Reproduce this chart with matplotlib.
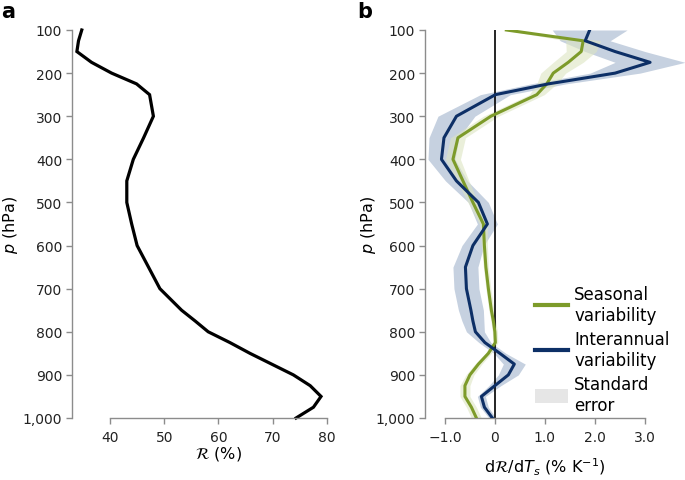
import matplotlib.pyplot as plt
from matplotlib.lines import Line2D
from matplotlib.patches import Patch

plt.rcParams['font.family'] = ['DejaVu Sans']
plt.rcParams['mathtext.fontset'] = 'dejavusans'

# pressure levels (hPa)
levels = [100, 125, 150, 175, 200, 225, 250, 300, 350, 400, 450, 500, 550, 600,
          650, 700, 750, 775, 800, 825, 850, 875, 900, 925, 950, 975, 1000]

# panel a: relative humidity profile (%)
rh = [34.8, 34.2, 33.9, 36.6, 40.3, 44.9, 47.3, 48.0, 46.2, 44.3, 43.1, 43.1, 44.0, 45.0,
      47.1, 49.2, 53.2, 55.7, 58.1, 62.1, 65.8, 69.8, 73.8, 76.9, 78.9, 77.5, 74.3]

# panel b: dR/dTs (% per K) and standard errors
seasonal = [0.23, 1.77, 1.73, 1.47, 1.17, 1.04, 0.84, -0.08, -0.74, -0.84, -0.64, -0.44, -0.23, -0.21,
            -0.18, -0.13, -0.07, -0.03, 0.0, 0.01, -0.13, -0.33, -0.5, -0.6, -0.6, -0.47, -0.37]
seasonal_se = [0.05, 0.35, 0.3, 0.3, 0.25, 0.2, 0.15, 0.15, 0.15, 0.15, 0.12, 0.1, 0.08, 0.06,
               0.05, 0.05, 0.05, 0.05, 0.05, 0.05, 0.06, 0.07, 0.08, 0.1, 0.1, 0.1, 0.1]
interannual = [1.9, 1.81, 2.41, 3.11, 2.41, 1.07, 0.01, -0.77, -1.02, -1.07, -0.77, -0.33, -0.15, -0.44,
               -0.59, -0.57, -0.48, -0.44, -0.39, -0.2, 0.1, 0.39, 0.27, 0.0, -0.27, -0.21, -0.05]
interannual_se = [0.75, 0.5, 0.6, 0.7, 0.5, 0.35, 0.3, 0.37, 0.3, 0.27, 0.22, 0.2, 0.2, 0.22,
                  0.25, 0.25, 0.25, 0.22, 0.18, 0.12, 0.12, 0.22, 0.2, 0.12, 0.08, 0.08, 0.07]

green = '#7d9b2a'
navy = '#0d2f66'
spine_col = '#8c8c8c'

fig = plt.figure(figsize=(6.85, 4.81), dpi=100)
ax1 = fig.add_axes([72 / 685, 1 - 419 / 481, 255 / 685, 388 / 481])
ax2 = fig.add_axes([425 / 685, 1 - 419 / 481, 262 / 685, 388 / 481])


def style_axis(ax, xb):
    for s in ['top', 'right']:
        ax.spines[s].set_visible(False)
    for s in ['left', 'bottom']:
        ax.spines[s].set_color(spine_col)
        ax.spines[s].set_linewidth(1.0)
    ax.spines['left'].set_bounds(100, 1000)
    ax.spines['bottom'].set_bounds(*xb)
    ax.set_ylim(1000, 100)
    ax.set_yticks(range(100, 1001, 100))
    ax.set_yticklabels([f'{v:,}' for v in range(100, 1001, 100)])
    ax.tick_params(axis='both', colors=spine_col, labelcolor='#222222',
                   labelsize=10, length=4, width=1.0)
    ax.tick_params(axis='y', pad=3)
    ax.tick_params(axis='x', pad=5)
    ax.xaxis.label.set_va('center')
    ax.yaxis.label.set_va('center')


# panel a
ax1.plot(rh, levels, color='black', lw=2.3, solid_joinstyle='miter', clip_on=False)
ax1.set_xlim(33, 80)
ax1.set_xticks([40, 50, 60, 70, 80])
ax1.set_xlabel(r'$\mathcal{R}$ (%)', fontsize=11.5)
ax1.set_ylabel(r'$p$ (hPa)', fontsize=11.5)
style_axis(ax1, (40, 80))
ax1.xaxis.set_label_coords((218.5 - 72) / 255, -0.09)
ax1.yaxis.set_label_coords((11 - 72) / 255, 0.5)

# panel b
lo = [v - e for v, e in zip(interannual, interannual_se)]
hi = [v + e for v, e in zip(interannual, interannual_se)]
ax2.fill_betweenx(levels, lo, hi, color='#c6d1e0', lw=0, zorder=1)
lo = [v - e for v, e in zip(seasonal, seasonal_se)]
hi = [v + e for v, e in zip(seasonal, seasonal_se)]
ax2.fill_betweenx(levels, lo, hi, color='#dde5c2', alpha=0.6, lw=0, zorder=1.5)
ax2.plot([0, 0], [100, 1000], color='black', lw=1.2, zorder=2)
ax2.plot(seasonal, levels, color=green, lw=2.2, zorder=3)
ax2.plot(interannual, levels, color=navy, lw=2.2, zorder=4)
ax2.set_xlim(-1.4, 3.85)
ax2.set_xticks([-1, 0, 1, 2, 3])
ax2.set_xticklabels(['\u22121.0', '0', '1.0', '2.0', '3.0'])
ax2.set_xlabel(r'd$\mathcal{R}$/d$T_s$ (% K$^{-1}$)', fontsize=11.5)
ax2.set_ylabel(r'$p$ (hPa)', fontsize=11.5)
style_axis(ax2, (-1, 3))
ax2.xaxis.set_label_coords((544.5 - 425) / 262, -0.124)
ax2.yaxis.set_label_coords((368 - 425) / 262, 0.5)

handles = [Line2D([], [], color=green, lw=3),
           Line2D([], [], color=navy, lw=3),
           Patch(facecolor='#e6e6e6', edgecolor='none')]
labels = ['Seasonal\nvariability', 'Interannual\nvariability', 'Standard\nerror']
ax2.legend(handles, labels, loc='upper left', bbox_to_anchor=(535 / 685, 1 - 286 / 481),
           bbox_transform=fig.transFigure, frameon=False, fontsize=12, borderpad=0,
           handlelength=2.0, handleheight=0.9, handletextpad=0.35, labelspacing=0.38,
           borderaxespad=0)

fig.text(0.002, 0.995, 'a', fontsize=15, fontweight='bold', va='top', ha='left')
fig.text(357 / 685, 0.995, 'b', fontsize=15, fontweight='bold', va='top', ha='left')

fig.savefig('out.png', dpi=100)
